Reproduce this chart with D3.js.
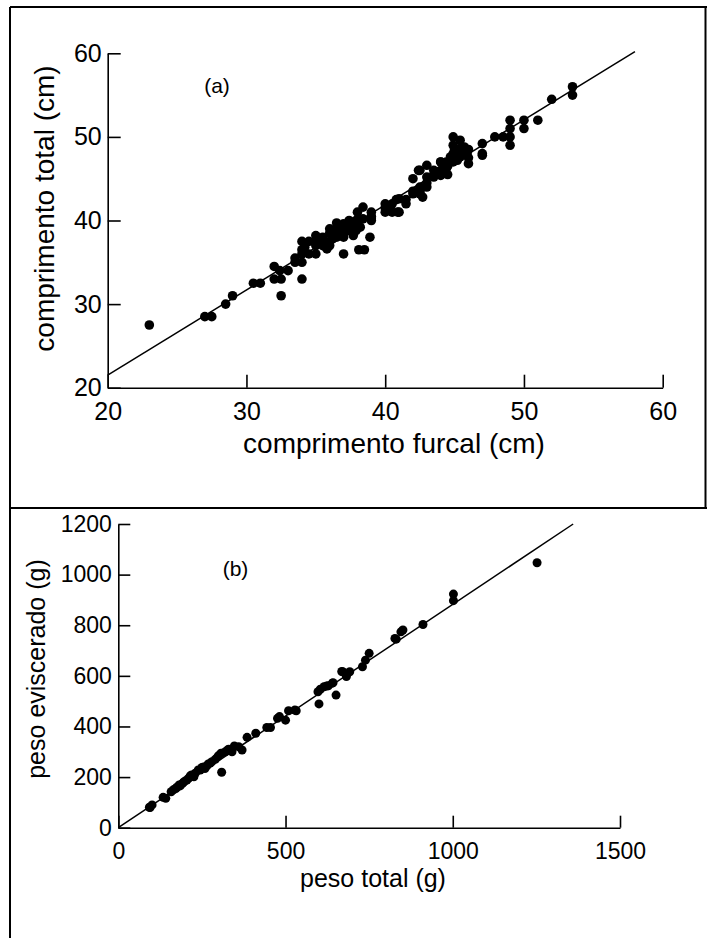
<!DOCTYPE html>
<html>
<head>
    <meta charset="utf-8">
    <title>comprimento e peso</title>
    <script src="https://cdnjs.cloudflare.com/ajax/libs/d3/7.8.5/d3.min.js"></script>
    <style>
        body, html {
            margin: 0;
            padding: 0;
            background: #fff;
        }
        svg text {
            font-family: "Liberation Sans", Arial, sans-serif;
            fill: #000;
        }
    </style>
</head>
<body>
<div id="chart"></div>
<script>
    // (a) comprimento furcal x comprimento total (cm)
    var furcal = [23, 27, 27.5, 28.5, 29, 30.5, 31, 32, 32, 32.4, 32.5, 32.5, 33, 33.5, 33.5, 34, 34, 34, 34, 34, 34.5, 34.5,
        35, 35, 35, 35, 35.5, 35.5, 36, 36, 36, 36, 36.5, 36.5, 36.5, 36.5, 37, 37, 37, 37, 37, 37.4, 37.4, 37.5, 37.9, 37.9,
        38, 38, 38, 38.1, 38.4, 38.4, 38.5, 38.9, 39, 39, 39, 39, 40, 40, 40, 40.1, 40.5, 40.5, 40.8, 40.9, 41, 41, 41.5, 41.5,
        42, 42, 42, 42.4, 42.5, 42.5, 42.5, 42.5, 42.7, 43, 43, 43, 43, 43.5, 43.5, 43.5, 44, 44, 44, 44, 44.4, 44.4, 44.5,
        44.5, 44.9, 44.9, 44.9, 44.9, 45, 45.4, 45.4, 45.4, 45.5, 45.9, 46, 46, 46, 47, 47, 47, 47.9, 48.5, 49, 49, 49, 49,
        50, 50, 51, 52, 53.5, 53.5,
        34.2, 35.3, 35.8, 36.2, 36.8, 37.2, 37.7, 38.2, 43.8, 44.2, 44.7, 45.2, 45.7];
    var total = [27.5, 28.5, 28.5, 30, 31, 32.5, 32.5, 34.5, 33, 34, 31, 33, 34, 35.5, 35, 33, 37.5, 36.5, 35, 36, 36, 37.5,
        37, 38.2, 36, 37.5, 37, 38, 37.5, 39, 37, 38.5, 39, 39.7, 38, 38.5, 39.6, 38.5, 36, 38, 39, 40, 38.8, 39.5, 38.8, 40,
        41, 39.5, 40, 36.5, 41.6, 40.2, 36.5, 38, 40, 41, 40.5, 40.3, 41, 42, 41.5, 41.7, 42, 41, 42.5, 41, 41, 42.6, 42.5, 42,
        43.2, 45, 43.5, 46, 44, 46, 43.2, 43.5, 42.8, 46.6, 45.2, 44, 44.5, 46, 45.2, 45.5, 47, 45.4, 46, 47, 46.2, 47, 46.5,
        45.5, 50, 49, 48, 47, 48.5, 49.6, 48.6, 47.6, 48, 48, 46.8, 48.5, 47.5, 49.2, 47.8, 48, 50, 50, 50, 51, 52, 49,
        52, 51, 52, 54.5, 56, 55,
        36.8, 37.6, 36.6, 37.8, 38.2, 39.2, 38.2, 39.2, 45.8, 46.6, 47.6, 47.2, 48.8];
    var ticksA = [20, 30, 40, 50, 60];
    var lineA = [[20, 21.5], [58, 60.2]];

    // (b) peso total x peso eviscerado (g)
    var pesoTotal = [93, 95, 101, 134, 142, 158, 165, 172, 175, 182, 185, 192, 195, 200, 205, 210, 215, 219, 226, 230, 239,
        245, 250, 255, 259, 265, 269, 275, 280, 290, 297, 300, 307, 309, 320, 327, 330, 340, 347, 360, 370, 385, 411,
        444, 455, 476, 482, 500, 509, 528, 532, 597, 600, 604, 615, 623, 628, 640, 642, 651, 668, 671, 682, 692, 730, 739,
        750, 827, 831, 845, 851, 911, 1002, 1002, 1252];
    var pesoEviscerado = [81, 80, 90, 120, 116, 142, 150, 155, 160, 169, 165, 175, 180, 185, 188, 195, 205, 208, 201, 215,
        228, 228, 238, 240, 234, 245, 252, 255, 261, 270, 280, 285, 294, 219, 300, 307, 310, 300, 323, 320, 307, 357, 373,
        396, 396, 432, 439, 425, 462, 465, 462, 537, 489, 547, 557, 560, 561, 571, 573, 524, 617, 616, 597, 616, 636, 662,
        689, 748, 745, 774, 781, 803, 923, 897, 1047];
    var ticksBx = [0, 500, 1000, 1500];
    var ticksBy = [0, 200, 400, 600, 800, 1000, 1200];
    var lineB = [[0, 0], [1360, 1200]];

    var width = 707, height = 938;
    var font = '"Liberation Sans", Arial, sans-serif';

    var svg = d3.select('#chart')
        .append('svg')
        .attr('width', width)
        .attr('height', height);

    // frame lines
    var frame = [
        [[10, 7], [10, height]],
        [[10, 7], [width, 7]],
        [[705.5, 7], [705.5, 508]],
        [[10, 508], [width, 508]]
    ];
    svg.selectAll('line.frame')
        .data(frame)
        .enter()
        .append('line')
        .attr('class', 'frame')
        .attr('x1', function (d) { return d[0][0]; })
        .attr('y1', function (d) { return d[0][1]; })
        .attr('x2', function (d) { return d[1][0]; })
        .attr('y2', function (d) { return d[1][1]; })
        .attr('stroke', '#000')
        .attr('stroke-width', 2);

    function panel(opt) {
        var g = svg.append('g');
        var x = opt.x, y = opt.y;

        var xAxis = d3.axisBottom(x)
            .tickValues(opt.xTicks)
            .tickSizeInner(-opt.tick)
            .tickSizeOuter(0)
            .tickPadding(opt.xPad)
            .tickFormat(d3.format('d'));
        var yAxis = d3.axisLeft(y)
            .tickValues(opt.yTicks)
            .tickSizeInner(-opt.tick)
            .tickSizeOuter(0)
            .tickPadding(opt.yPad)
            .tickFormat(d3.format('d'));

        var gx = g.append('g')
            .attr('transform', 'translate(0,' + y.range()[0] + ')')
            .call(xAxis);
        var gy = g.append('g')
            .attr('transform', 'translate(' + x.range()[0] + ',0)')
            .call(yAxis);

        [gx, gy].forEach(function (a) {
            a.attr('font-family', font).attr('font-size', opt.tickFont);
            a.selectAll('path, line').attr('stroke', '#000').attr('stroke-width', 1.6);
            a.selectAll('text').attr('fill', '#000');
        });

        g.append('path')
            .datum(opt.line)
            .attr('d', d3.line()
                .x(function (d) { return x(d[0]); })
                .y(function (d) { return y(d[1]); }))
            .attr('fill', 'none')
            .attr('stroke', '#000')
            .attr('stroke-width', 1.5);

        g.selectAll('circle')
            .data(opt.xs)
            .enter()
            .append('circle')
            .attr('cx', function (d) { return x(d); })
            .attr('cy', function (d, i) { return y(opt.ys[i]); })
            .attr('r', opt.r)
            .attr('fill', '#000');

        g.append('text')
            .attr('x', opt.tag[0])
            .attr('y', opt.tag[1])
            .attr('text-anchor', 'middle')
            .attr('font-size', opt.tagFont)
            .text(opt.tagText);

        g.append('text')
            .attr('x', opt.xTitlePos[0])
            .attr('y', opt.xTitlePos[1])
            .attr('text-anchor', 'middle')
            .attr('font-size', opt.titleFont)
            .text(opt.xTitle);

        g.append('text')
            .attr('transform', 'translate(' + opt.yTitlePos[0] + ',' + opt.yTitlePos[1] + ') rotate(-90)')
            .attr('text-anchor', 'middle')
            .attr('font-size', opt.titleFont)
            .text(opt.yTitle);
    }

    panel({
        x: d3.scaleLinear().domain([20, 60]).range([107.7, 662.7]),
        y: d3.scaleLinear().domain([20, 60]).range([387.7, 53.3]),
        xTicks: ticksA, yTicks: ticksA,
        tick: 13, xPad: 15, yPad: 6, tickFont: 25,
        line: lineA,
        xs: furcal, ys: total, r: 4.8,
        tag: [217, 93], tagFont: 21, tagText: '(a)',
        xTitle: 'comprimento furcal (cm)', xTitlePos: [394, 453],
        yTitle: 'comprimento total (cm)', yTitlePos: [54, 208.5],
        titleFont: 28
    });

    panel({
        x: d3.scaleLinear().domain([0, 1500]).range([118.3, 620]),
        y: d3.scaleLinear().domain([0, 1200]).range([827.7, 524]),
        xTicks: ticksBx, yTicks: ticksBy,
        tick: 12, xPad: 15, yPad: 6.5, tickFont: 23,
        line: lineB,
        xs: pesoTotal, ys: pesoEviscerado, r: 4.5,
        tag: [235.5, 575.5], tagFont: 21, tagText: '(b)',
        xTitle: 'peso total (g)', xTitlePos: [373, 887],
        yTitle: 'peso eviscerado (g)', yTitlePos: [45, 669],
        titleFont: 25
    });
</script>
</body>
</html>
